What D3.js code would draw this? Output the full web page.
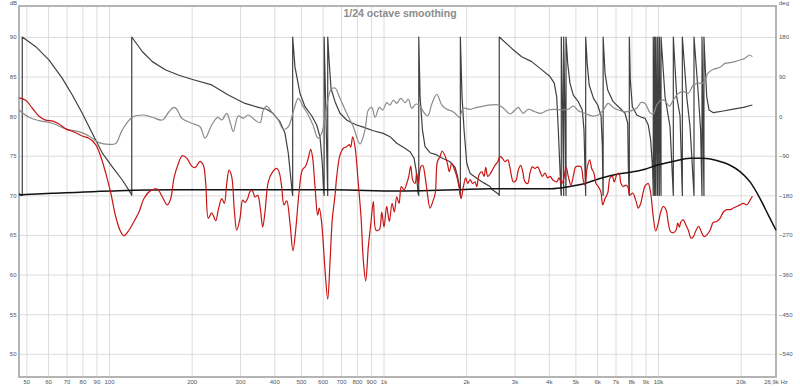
<!DOCTYPE html>
<html><head><meta charset="utf-8">
<script src="https://cdn.jsdelivr.net/npm/d3@7"></script>
<style>body{margin:0;background:#fff}svg{display:block}text{font-family:"Liberation Sans",Arial,sans-serif}</style>
</head><body><svg id="c" width="800" height="387"></svg>
<script>
const chartTitle = "1/24 octave smoothing";
const freqTicks = [50,60,70,80,90,100,200,300,400,500,600,700,800,900,1000,2000,3000,4000,5000,6000,7000,8000,9000,10000,20000];
const freqTickLabels = ["50","60","70","80","90","100","200","300","400","500","600","700","800","900","1k","2k","3k","4k","5k","6k","7k","8k","9k","10k","20k"];
const freqEndLabel = "26,9k Hz";
const dbTicks = [50,55,60,65,70,75,80,85,90];
const degTicks = [180,90,0,-90,-180,-270,-360,-450,-540];

// SPL measurement (dB)
const splRed = [[47,82.3],[49.7,82.0],[52.6,81.0],[55.6,80.0],[58.8,79.5],[62.1,79.4],[65.8,79.0],[69.5,78.4],[74.6,78.0],[79.9,77.5],[84.5,77.2],[89.4,76.4],[93.3,74.9],[97.3,72.8],[101.5,70.3],[105.8,67.3],[110.3,65.4],[113.4,64.9],[118.2,65.6],[123.3,66.7],[128.6,67.9],[134.1,69.6],[141.8,70.6],[149.9,70.8],[156.4,69.8],[163.1,68.8],[167.8,69.6],[172.5,72.2],[178.8,74.0],[184.9,75.0],[191.9,74.7],[200.1,73.7],[205.8,73.5],[214.6,74.3],[220.6,73.8],[225.1,71.5],[230.1,67.1],[236.7,67.8],[244.8,66.8],[250.2,68.2],[257.5,69.6],[263.1,69.0],[268.5,71.5],[273.7,73.2],[279.8,72.4],[286,68.2],[291.8,65.6],[300,67.1],[306.9,69.4],[312.9,69.1],[320,69.6],[326.3,70.5],[332.6,70.6],[340.3,69.8],[348,70.0],[355.7,68.4],[362.9,66.0],[370,67.9],[380.4,71.7],[393.4,72.9],[408.1,73.4],[416.1,73.0],[425.6,71.1],[433.9,68.8],[443.8,69.3],[456.3,66.5],[467.9,63.0],[478.6,65.6],[492.1,70.3],[505.9,73.2],[520.5,73.7],[532,74.7],[542.8,75.8],[552,74.7],[562.8,71.1],[575.6,67.5],[583.4,68.4],[595.3,66.5],[612.2,60.6],[626.2,56.9],[638.4,61.6],[650.8,67.0],[665.8,70.0],[675.4,72.4],[694.1,75.1],[713.7,75.95],[734.3,76.15],[750.5,76.4],[759.3,76.1],[772.2,77.4],[787.2,76.15],[809.4,71.5],[828,67.3],[844.2,61.8],[861.3,59.2],[880.3,63.5],[899.6,66.5],[918.3,69.2],[939.3,65.6],[965.7,65.7],[985.3,67.9],[1004,66.0],[1027,68.6],[1050,66.7],[1074,69.0],[1095,67.9],[1117,69.8],[1139,69.0],[1161,71.1],[1188,70.7],[1215,71.5],[1236,72.4],[1256,73.7],[1278,71.9],[1303,71.5],[1321,72.8],[1339,71.5],[1366,73.6],[1389,73.8],[1417,72.4],[1444,70.3],[1477,68.4],[1511,69.2],[1544,70.3],[1571,74.25],[1607,74.9],[1634,75.6],[1675,75.0],[1708,74.05],[1737,73.0],[1772,74.05],[1807,73.4],[1848,72.4],[1884,71.1],[1916,69.6],[1954,71.1],[1993,72.2],[2027,71.5],[2067,72.0],[2114,71.5],[2155,71.7],[2186,71.1],[2228,72.6],[2279,73.0],[2324,72.4],[2357,73.55],[2397,72.4],[2444,72.7],[2492,73.2],[2549,73.8],[2607,74.25],[2658,74.9],[2710,74.7],[2772,74.25],[2835,74.5],[2891,73.4],[2972,71.7],[3038,71.9],[3097,73.2],[3160,73.8],[3214,73.0],[3276,71.7],[3351,71.5],[3416,72.8],[3483,73.6],[3563,73.4],[3645,73.6],[3716,73.0],[3788,72.4],[3875,72.8],[3964,72.2],[4040,72.4],[4154,71.9],[4274,71.7],[4357,72.2],[4457,71.5],[4544,72.2],[4622,73.6],[4711,72.4],[4818,71.3],[4912,72.4],[5013,73.6],[5123,73.7],[5240,73.6],[5342,71.9],[5419,71.3],[5525,73.6],[5637,74.5],[5732,73.4],[5844,72.8],[5943,71.5],[6061,71.1],[6184,70.5],[6289,68.8],[6411,69.6],[6557,70.3],[6685,72.2],[6816,72.4],[6932,71.7],[7071,72.6],[7209,72.8],[7330,71.5],[7473,71.1],[7625,71.3],[7755,71.1],[7905,70.05],[8088,70.3],[8294,69.4],[8477,68.4],[8649,69.0],[8818,70.3],[8967,71.2],[9091,71.4],[9214,71.5],[9401,70.3],[9608,67.3],[9804,65.5],[10025,66.5],[10229,67.9],[10455,68.6],[10694,68.2],[10902,66.5],[11124,65.4],[11369,65.3],[11629,65.6],[11797,66.5],[11957,66.0],[12129,66.7],[12366,66.9],[12616,66.3],[12894,65.6],[13190,64.6],[13448,64.8],[13756,65.6],[14071,66.1],[14381,65.4],[14711,64.8],[15048,65.0],[15470,65.6],[15904,66.6],[16365,66.7],[16823,67.1],[17295,67.9],[17793,68.2],[18300,68.2],[18813,68.4],[19357,68.6],[19900,68.8],[20458,69.0],[21050,68.8],[21640,69.4],[22062,69.9]];

// smooth black trace (dB)
const traceBlack = [[47,70.05],[62.1,70.26],[108.8,70.6],[174,70.7],[666,70.7],[1117,70.55],[1848,70.7],[2444,70.85],[4100,70.85],[4711,71.1],[5419,71.5],[6230,72.2],[7160,72.7],[8020,72.95],[8967,73.3],[9891,73.8],[11369,74.3],[13080,74.7],[14625,74.7],[16365,74.4],[18300,73.8],[19900,73.0],[21640,71.7],[23536,69.6],[25232,67.5],[26900,65.6]];

// light grey phase (deg)
const phaseLight = [[47,14],[51.1,-2.5],[55.6,-10],[62.1,-16],[69.5,-29],[77.7,-35],[84.5,-45],[91.9,-60],[100,-64],[105.8,-62],[111.8,-31],[121.6,-2.5],[132.2,2.7],[143.8,-2.5],[156.4,-8.6],[165.4,10],[172.5,20],[177,15],[184,-4.8],[200,-16],[214.6,-24],[223.8,-50],[236.7,-20],[248.9,-2.5],[257.5,-8.6],[268.5,6.6],[275.9,-12.5],[283.6,-35],[295.8,0.5],[308.4,-4.8],[321.6,2.7],[340.3,-8.6],[354.8,-14.8],[364.8,14],[375.3,23],[391.4,10],[413.6,-8.6],[431.4,-30],[449.8,-24],[469.1,10],[489.2,40.6],[510.1,21.6],[532,2.7],[553.4,-20],[577.2,-50],[595.3,-39],[621,21.6],[643.8,61],[665.8,64],[694.1,40.6],[734.3,6.6],[776.1,-24],[821,-63],[856.2,-31],[880.3,14],[906,20],[931.5,-2.5],[965.7,20],[993.6,14],[1027,30.7],[1056,25.5],[1086,36.8],[1117,29.3],[1155,40.6],[1198,30.7],[1231,39],[1267,18],[1314,27.7],[1359,23],[1397,10],[1449,0.5],[1499,27.7],[1563,49.8],[1630,25.5],[1699,15.7],[1758,12.6],[1822,6.6],[1889,-2.5],[1954,18],[2067,15.7],[2186,20],[2311,23],[2479,25.5],[2620,25.5],[2733,18],[2891,5],[3013,14],[3097,20],[3227,6.6],[3365,15.7],[3563,10],[3747,6.6],[3983,14],[4214,15.7],[4457,14],[4711,15.7],[4912,23],[5123,12.6],[5419,6.6],[5732,0.5],[6061,2.7],[6320,14],[6580,29],[6862,20],[7167,14],[7580,10],[8020,12.6],[8364,18],[8670,31],[8967,29],[9347,8],[9608,5],[9891,25.5],[10315,36.8],[10605,35],[10994,23],[11369,36.8],[11857,52],[12366,56],[12894,52],[13448,71],[14036,75],[14625,76],[15184,97.5],[15904,106.6],[16823,111],[17520,120],[18300,121.6],[19052,124],[19900,127.7],[20752,131.6],[21514,139],[22062,135.3]];

// dark grey wrapped phase (deg)
const phaseDark = [[47,-176],[48.3,-180],[48.3,180],[54.1,158],[60.4,128],[67.6,86],[73.5,48],[79.9,6.6],[86.9,-39],[94.6,-84],[102.8,-115],[111.8,-145],[120.6,-177],[121,-180],[121,180],[132.2,147],[143.8,124],[160.9,105],[179.9,93],[200.1,84],[236.7,71],[272,48],[312.9,29],[349.7,20],[375.3,15.7],[395.7,6.6],[419.6,-12.5],[437.6,-39],[449.8,-84],[460.2,-145],[465.2,-175],[466.7,-180],[466.7,180],[475.8,112],[496.2,52],[517.5,21.6],[547.5,1],[570.9,-20],[586.9,-47],[598.3,-107],[605.6,-174],[607.7,-180],[607.7,180],[616,20],[626.2,-180],[626.2,180],[633,130],[643.8,63],[665.8,33],[694.1,6.6],[734.3,-8.6],[765.7,-14.8],[798.7,-20],[844.2,-25],[918.3,-33],[998,-39],[1056,-46.6],[1117,-61.6],[1181,-70.7],[1249,-80.7],[1292,-95.7],[1314,-122],[1336,-175],[1344,-180],[1344,180],[1359,44],[1386,-31],[1417,-69],[1477,-83],[1563,-88],[1646,-96],[1742,-103],[1822,-116],[1856,-134],[1889,-160],[1900,-175],[1905,-180],[1905,180],[1932,44],[1965,-31],[2010,-107],[2067,-130],[2186,-141],[2311,-151],[2444,-160],[2479,-166],[2620,-177],[2640,-180],[2640,180],[2932,154],[3187,135],[3466,124],[3747,107],[4040,90],[4188,75],[4274,44],[4332,-31],[4394,-122],[4431,-177],[4442,-180],[4442,180],[4490,20],[4532,-180],[4532,180],[4580,20],[4622,-180],[4622,180],[4687,120],[4778,75],[4912,48],[5123,33],[5298,14],[5374,-31],[5419,-122],[5451,-180],[5451,180],[5520,120],[5613,71],[5820,40.6],[6030,25.5],[6200,1],[6268,-69],[6304,-177],[6310,-180],[6310,180],[6411,97.5],[6557,59.5],[6862,33],[7270,18],[7580,6.6],[7755,-16],[7792,-107],[7839,-177],[7860,-180],[7860,180],[7926,82],[8061,22],[8364,2.7],[8707,-2.5],[8967,-4.8],[9214,-20],[9401,-54],[9561,-122],[9608,-180],[9608,180],[9660,0],[9722,-180],[9722,180],[9770,0],[9828,-180],[9828,180],[9900,0],[9970,-180],[9970,180],[10040,0],[10110,-180],[10110,180],[10180,0],[10255,-180],[10255,180],[10605,44],[11058,-24],[11369,-180],[11369,180],[11698,44],[12025,1],[12262,-180],[12262,180],[12723,44],[13080,-24],[13522,-180],[13522,180],[13983,59.5],[14291,-31],[14460,-180],[14460,180],[14700,-180],[14700,180],[14835,120],[15048,44],[15339,14],[15904,7.9],[17295,11.8],[18813,16],[20458,20],[22062,25.5]];

const L = 19, R = 776, T = 6, B = 377;
const svg = d3.select("#c");
const x = d3.scaleLog().domain([47, 26900]).range([L, R]);
const yDb = d3.scaleLinear().domain([47.07, 93.91]).range([B, T]);
const yDeg = d3.scaleLinear().domain([-592.7, 250.4]).range([B, T]);

// grid + bottom labels
const gx = svg.append("g").attr("transform", `translate(0,${B})`)
  .call(d3.axisBottom(x).tickValues(freqTicks).tickFormat((d,i)=>freqTickLabels[i]).tickSize(-(B-T)).tickPadding(3));
gx.select(".domain").remove();
gx.selectAll("line").attr("stroke", "#dcdcdc");
gx.selectAll("text").attr("fill", "#555").style("font-size", "6px");

const gy = svg.append("g").attr("transform", `translate(${L},0)`)
  .call(d3.axisLeft(yDb).tickValues(dbTicks).tickSize(-(R-L)).tickPadding(2.5));
gy.select(".domain").remove();
gy.selectAll("line").attr("stroke", "#dcdcdc");
gy.selectAll("text").attr("fill", "#555").style("font-size", "6px");

const gr = svg.append("g").attr("transform", `translate(${R},0)`)
  .call(d3.axisRight(yDeg).tickValues(degTicks).tickSize(0).tickPadding(3));
gr.select(".domain").remove();
gr.selectAll("text").attr("fill", "#555").style("font-size", "6px");

svg.append("text").attr("x", x(26900)).attr("y", B + 3).attr("dy", "0.71em")
  .attr("text-anchor", "middle").attr("fill", "#555").style("font-size", "6px").text(freqEndLabel);
svg.append("text").attr("x", 17).attr("y", 5).attr("text-anchor", "end")
  .attr("fill", "#555").style("font-size", "6px").text("dB");
svg.append("text").attr("x", 779).attr("y", 5).attr("text-anchor", "start")
  .attr("fill", "#555").style("font-size", "6px").text("deg");

// frame
svg.append("rect").attr("x", L).attr("y", T).attr("width", R-L).attr("height", B-T)
  .attr("fill", "none").attr("stroke", "#b4b4b4").attr("stroke-width", 2);

// title
svg.append("text").attr("x", 400).attr("y", 17).attr("text-anchor", "middle")
  .attr("fill", "#8c8c8c").style("font-size", "10.5px").style("font-weight", "bold").text(chartTitle);

const plot = svg.append("g");
const lineDeg = (curve) => d3.line().x(d=>x(d[0])).y(d=>yDeg(d[1])).curve(curve);
const lineDb = (curve) => d3.line().x(d=>x(d[0])).y(d=>yDb(d[1])).curve(curve);

plot.append("path").datum(phaseDark).attr("d", lineDeg(d3.curveLinear))
  .attr("fill", "none").attr("stroke", "#404040").attr("stroke-width", 1.2).attr("stroke-linejoin", "round");
plot.append("path").datum(phaseLight).attr("d", lineDeg(d3.curveCatmullRom.alpha(0.5)))
  .attr("fill", "none").attr("stroke", "#8a8a8a").attr("stroke-width", 1.2);
plot.append("path").datum(traceBlack).attr("d", lineDb(d3.curveMonotoneX))
  .attr("fill", "none").attr("stroke", "#111").attr("stroke-width", 1.5);
plot.append("path").datum(splRed).attr("d", lineDb(d3.curveCatmullRom.alpha(0.5)))
  .attr("fill", "none").attr("stroke", "#c81414").attr("stroke-width", 1.2);
</script></body></html>
